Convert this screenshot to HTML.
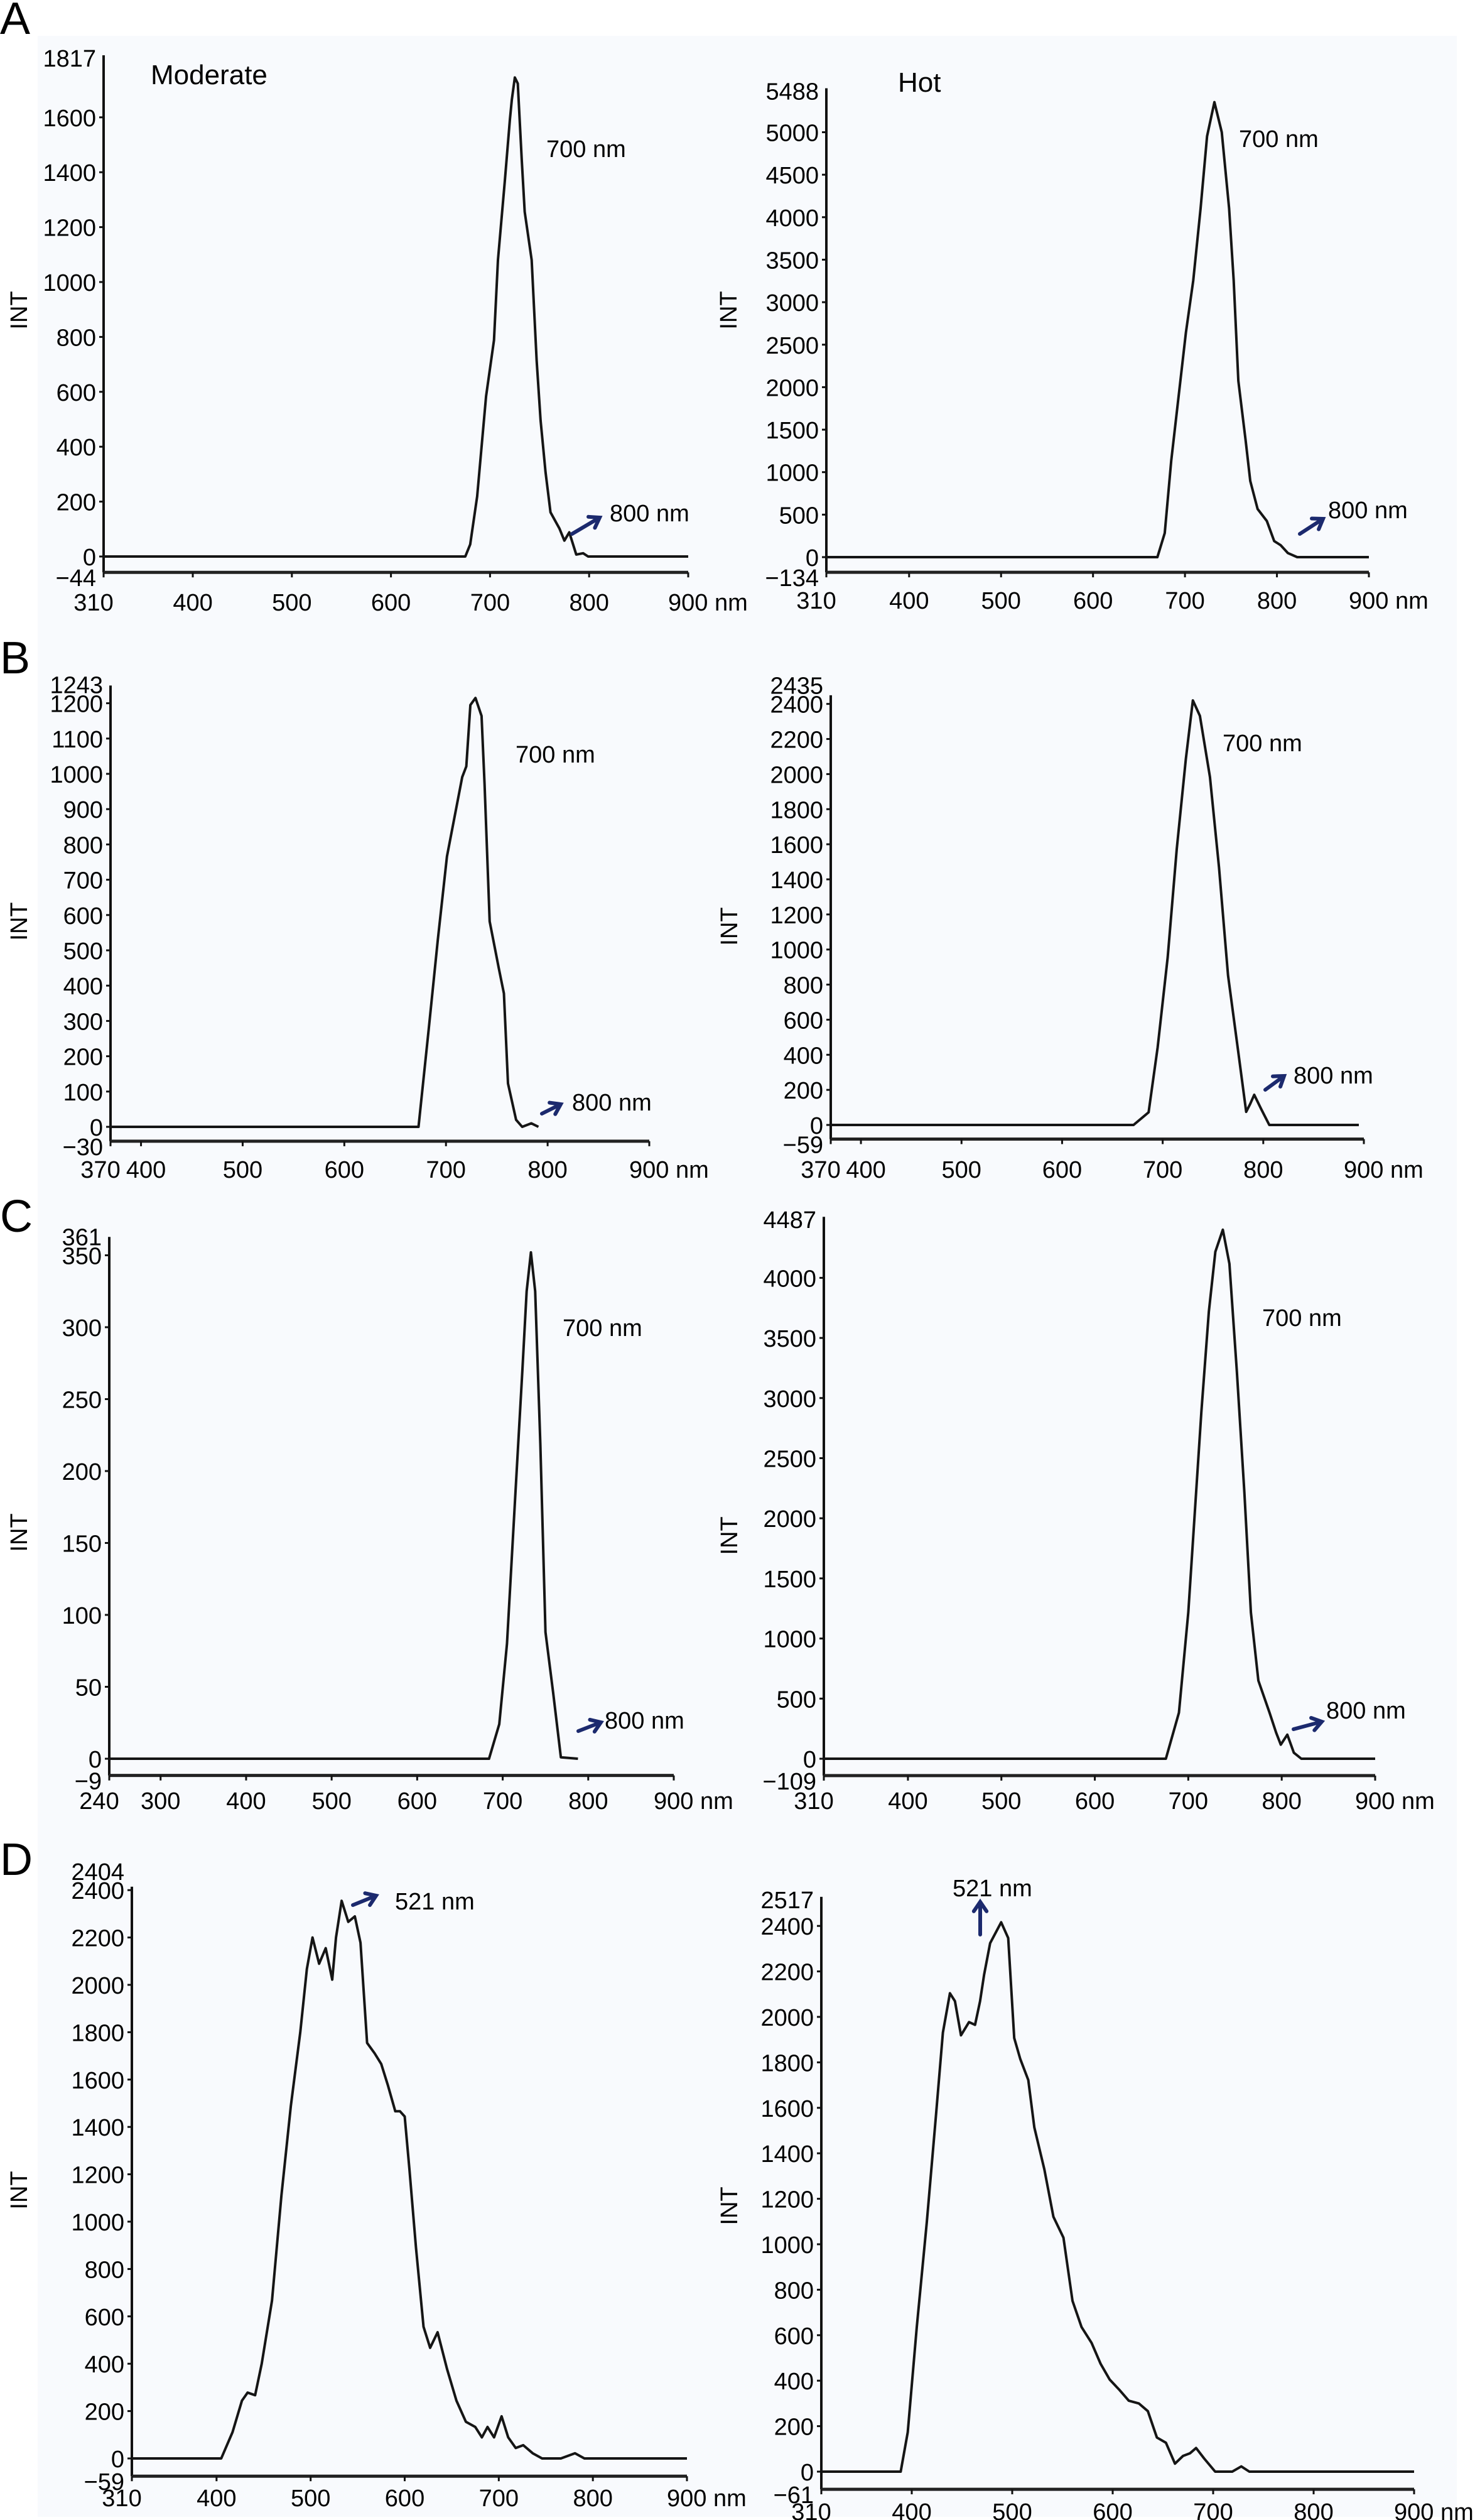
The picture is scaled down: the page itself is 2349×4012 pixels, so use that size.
<!DOCTYPE html>
<html><head><meta charset="utf-8">
<style>
html,body{margin:0;padding:0;background:#fff;}
svg{display:block;font-family:"Liberation Sans",Arial,sans-serif;}
</style></head>
<body>
<svg id="fig" width="2349" height="4012" viewBox="0 0 2349 4012" xmlns="http://www.w3.org/2000/svg">
<rect x="0" y="0" width="2349" height="4012" fill="#ffffff"/>
<rect x="60" y="57" width="2260" height="3950" fill="#f8fafd"/>
</svg>
<script>
// ---------- data (wavelength nm / intensity) ----------
const aModNm  = [310,675,680,687,696,704,708,715,720,722,725,728,732,735,742,747,751,756,761,770,775,780,787,794,799,900];
const aModInt = [0,0,44,219,584,788,1080,1372,1591,1664,1745,1723,1445,1256,1080,715,496,307,161,102,58,88,7,12,0,0];
const aHotNm  = [310,670,678,685,693,701,709,717,724,732,740,748,753,758,766,771,779,789,797,804,812,822,900];
const aHotInt = [0,0,283,1132,1887,2642,3255,4104,4953,5354,5000,4104,3255,2075,1368,896,566,425,189,141,47,0,0];
const bModNm  = [370,673,683,692,701,716,720,724,729,735,738,743,752,757,761,769,775,784,791];
const bModInt = [0,0,276,531,766,991,1021,1195,1215,1164,970,582,449,378,123,20,0,10,0];
const bHotNm  = [370,671,686,695,705,714,723,730,737,747,756,765,775,783,787,791,798,806,895];
const bHotInt = [0,0,72,442,956,1572,2086,2420,2332,1983,1469,853,421,75,120,172,90,0,0];
const cModNm  = [240,684,696,705,715,723,728,733,738,744,750,759,768,788];
const cModInt = [0,0,24,80,186,270,325,352,325,219,88,46,1,0];
const cHotNm  = [310,676,690,700,707,714,722,729,737,744,752,760,767,775,787,794,799,806,813,821,900];
const cHotInt = [0,0,383,1217,2050,2883,3717,4217,4400,4117,3217,2217,1217,650,383,217,117,200,50,0,0];
const dModNm  = [310,405,417,427,433,441,448,459,469,479,489,496,502,509,516,523,527,533,540,547,553,560,568,575,582,590,595,600,605,612,620,627,635,645,655,665,675,682,688,695,703,710,718,726,736,746,766,781,791,900];
const dModInt = [0,0,111,244,278,267,400,667,1111,1489,1800,2067,2200,2089,2155,2022,2200,2355,2266,2289,2178,1755,1711,1666,1578,1466,1466,1444,1222,889,556,467,533,378,244,155,133,89,133,89,178,89,44,56,22,0,0,22,0,0];
const dHotNm  = [310,389,396,405,415,424,431,438,443,449,457,463,468,472,478,489,496,502,508,516,522,532,541,551,560,569,579,588,597,607,616,626,635,644,653,662,670,677,683,691,702,719,728,736,900];
const dHotInt = [0,0,173,636,1098,1561,1931,2104,2069,1919,1977,1965,2069,2185,2324,2416,2347,1907,1815,1722,1514,1329,1121,1029,751,636,566,474,405,358,312,300,266,150,127,35,69,81,104,58,0,0,23,0,0];

// ---------- tick label arrays ----------
const aModYTicks = [0,200,400,600,800,1000,1200,1400,1600];
const aHotYTicks = [0,500,1000,1500,2000,2500,3000,3500,4000,4500,5000];
const bModYTicks = [0,100,200,300,400,500,600,700,800,900,1000,1100,1200];
const bHotYTicks = [0,200,400,600,800,1000,1200,1400,1600,1800,2000,2200,2400];
const cModYTicks = [0,50,100,150,200,250,300,350];
const cHotYTicks = [0,500,1000,1500,2000,2500,3000,3500,4000];
const dYTicks    = [0,200,400,600,800,1000,1200,1400,1600,1800,2000,2200,2400];
const xTicks310  = [310,400,500,600,700,800,900];
const xTicks370  = [370,400,500,600,700,800,900];
const xTicks240  = [240,300,400,500,600,700,800,900];

const NS='http://www.w3.org/2000/svg';
const svg=document.getElementById('fig');
function mk(tag,attrs,parent){const e=document.createElementNS(NS,tag);for(const k in attrs)e.setAttribute(k,attrs[k]);(parent||svg).appendChild(e);return e;}
function txt(s,x,y,size,anchor,parent){const t=mk('text',{x:x,y:y,'font-size':size,'text-anchor':anchor||'start',fill:'#000'},parent);t.textContent=s;return t;}

// panel layout configs (geometry only)
const panels=[
 {id:'a-moderate',nm:aModNm,val:aModInt,xmin:310,px0:165,px1:1096,y0:886,ppu:0.437,ymin:-44,ymax:1817,yt:aModYTicks,xt:xTicks310,ly:972,int:[30,494],pk:[870,250],tl:[971,830],ar:[911,850,955,824]},
 {id:'a-hot',nm:aHotNm,val:aHotInt,xmin:310,px0:1316,px1:2180,y0:887,ppu:0.1353,ymin:-134,ymax:5488,yt:aHotYTicks,xt:xTicks310,ly:969,int:[1160,494],pk:[1973,234],tl:[2115,825],ar:[2070,850,2107,826]},
 {id:'b-moderate',nm:bModNm,val:bModInt,xmin:370,px0:176,px1:1034,y0:1794,ppu:0.562,ymin:-30,ymax:1243,yt:bModYTicks,xt:xTicks370,ly:1875,int:[30,1467],pk:[821,1214],tl:[911,1768],ar:[863,1773,893,1758]},
 {id:'b-hot',nm:bHotNm,val:bHotInt,xmin:370,px0:1323,px1:2172,y0:1791,ppu:0.2793,ymin:-59,ymax:2435,yt:bHotYTicks,xt:xTicks370,ly:1875,int:[1161,1475],pk:[1947,1196],tl:[2060,1725],ar:[2015,1735,2045,1713]},
 {id:'c-moderate',nm:cModNm,val:cModInt,xmin:240,px0:174,px1:1073,y0:2800,ppu:2.29,ymin:-9,ymax:361,yt:cModYTicks,xt:xTicks240,ly:2880,int:[30,2440],pk:[896,2127],tl:[963,2752],ar:[921,2756,957,2742]},
 {id:'c-hot',nm:cHotNm,val:cHotInt,xmin:310,px0:1312,px1:2190,y0:2800,ppu:0.1914,ymin:-109,ymax:4487,yt:cHotYTicks,xt:xTicks310,ly:2880,int:[1161,2445],pk:[2010,2111],tl:[2112,2736],ar:[2060,2753,2105,2741]},
 {id:'d-moderate',nm:dModNm,val:dModInt,xmin:310,px0:210,px1:1094,y0:3914,ppu:0.377,ymin:-59,ymax:2404,yt:dYTicks,xt:xTicks310,ly:3990,int:[30,3487],pk:[629,3040],tl:null,ar:[562,3033,599,3018],pkText:'521 nm'},
 {id:'d-hot',nm:dHotNm,val:dHotInt,xmin:310,px0:1308,px1:2252,y0:3935,ppu:0.362,ymin:-61,ymax:2517,yt:dYTicks,xt:xTicks310,ly:4012,int:[1161,3512],pk:[1517,3019],tl:null,ar:[1561,3080,1561,3028],pkText:'521 nm',up:true}
];

panels.forEach(p=>{
  const g=mk('g',{});
  
  
  const X=v=>p.px0+(v-p.xmin)*(p.px1-p.px0)/(900-p.xmin);
  const Y=v=>p.y0-v*p.ppu;
  const axX=p.px0, botY=Y(p.ymin)+6, topY=Y(p.ymax)-4;
  const ya=mk('line',{x1:axX,y1:topY,x2:axX,y2:botY,stroke:'#111','stroke-width':4},g);
  
  
  const xa=mk('line',{x1:axX,y1:botY,x2:X(900),y2:botY,stroke:'#222','stroke-width':5},g);
  
  
  p.yt.forEach(v=>{
    mk('line',{x1:axX-7,y1:Y(v),x2:axX,y2:Y(v),stroke:'#111','stroke-width':3},g);
    const t=txt(String(v),axX-12,Y(v)+14,38,'end',g);
    
    
  });
  // top label: keep clear of the highest regular tick label
  const lastTick=p.yt[p.yt.length-1];
  let topBase=topY+18;
  topBase=Math.min(topBase,Y(lastTick)+14-30);
  const tt=txt(String(p.ymax),axX-12,topBase,38,'end',g);
  
  
  const bt=txt('\u2212'+String(-p.ymin),axX-12,botY+22,38,'end',g);
  
  
  p.xt.forEach(v=>{
    const x=(v===p.xmin)?axX:X(v);
    mk('line',{x1:x,y1:botY,x2:x,y2:botY+8,stroke:'#111','stroke-width':3},g);
    let t;
    if(v===900){t=txt('900 nm',x-32,p.ly,38,'start',g);}
    else if(v===p.xmin){t=txt(String(v),x-16,p.ly,38,'middle',g);}
    else{t=txt(String(v),x+(v===400&&p.xmin===370?8:0),p.ly,38,'middle',g);}
    
    
  });
  const d=p.nm.map((n,i)=>(i?'L':'M')+X(n).toFixed(1)+','+Y(p.val[i]).toFixed(1)).join(' ');
  const path=mk('path',{d:d,fill:'none',stroke:'#151515','stroke-width':4,'stroke-linejoin':'round'},g);
  
  
  const il=txt('INT',0,0,38,'middle',g);
  il.setAttribute('transform','translate('+(p.int[0]+13)+','+p.int[1]+') rotate(-90)');
  
  
  const pl=txt(p.pkText||'700 nm',p.pk[0],p.pk[1],38,'start',g);
  
  
  if(p.tl){
    const tl=txt('800 nm',p.tl[0],p.tl[1],38,'start',g);
    
    
  }
  const [x1,y1,x2,y2]=p.ar;
  const ang=Math.atan2(y2-y1,x2-x1), L=18;
  const h1x=x2-L*Math.cos(ang-0.6),h1y=y2-L*Math.sin(ang-0.6),h2x=x2-L*Math.cos(ang+0.6),h2y=y2-L*Math.sin(ang+0.6);
  const ar=mk('path',{d:`M${x1},${y1} L${x2},${y2} M${h1x},${h1y} L${x2},${y2} L${h2x},${h2y}`,fill:'none',stroke:'#1c2a6e','stroke-width':6,'stroke-linecap':'round'},g);
  
  
});

[['A',54],['B',1072],['C',1961],['D',2985]].forEach(([s,y])=>{
  const t=txt(s,0,y,72,'start');
  
  
});
const m=txt('Moderate',240,134,44,'start');


const h=txt('Hot',1430,146,44,'start');


</script>
</body></html>
